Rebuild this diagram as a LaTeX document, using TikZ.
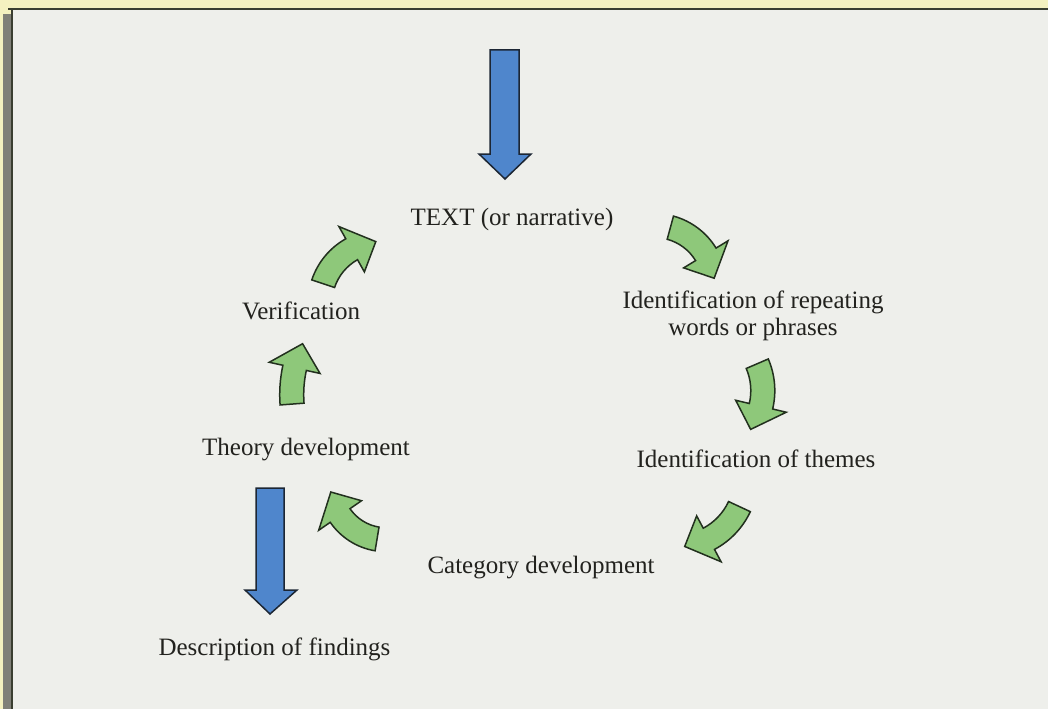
\documentclass[tikz,border=0pt]{standalone}
\usepackage{fontspec}
\setmainfont{Liberation Serif}

\definecolor{pageyellow}{RGB}{244,241,192}
\definecolor{panelgray}{RGB}{238,239,235}
\definecolor{framedark}{RGB}{58,62,48}
\definecolor{bandgray}{RGB}{128,128,120}
\definecolor{arrowblue}{RGB}{79,134,204}
\definecolor{blueline}{RGB}{28,38,52}
\definecolor{arrowgreen}{RGB}{142,200,122}
\definecolor{greenline}{RGB}{34,48,30}
\definecolor{inkdark}{RGB}{34,34,30}

\tikzset{
  steplabel/.style={font=\fontsize{25}{27}\selectfont, text=inkdark, inner sep=0pt, anchor=base},
  bluearrow/.style={fill=arrowblue, draw=blueline, line width=1.5pt, line join=miter},
  greenarrow/.style={fill=arrowgreen, draw=greenline, line width=1.5pt, line join=miter},
}

% curved block arrow, clockwise: centre x, centre y, radius, start angle, end angle
\newcommand{\bentarrow}[5]{%
  \pgfmathsetmacro\ro{#3+12}\pgfmathsetmacro\ri{#3-12}%
  \pgfmathsetmacro\rbo{#3+26}\pgfmathsetmacro\rbi{#3-26}%
  \pgfmathsetmacro\tipang{#5-1460/#3}%
  \filldraw[greenarrow,shift={(#1,#2)}] (#4:\ro) arc[start angle=#4,end angle=#5,radius=\ro]
    -- (#5:\rbo) -- (\tipang:#3) -- (#5:\rbi) -- (#5:\ri)
    arc[start angle=#5,end angle=#4,radius=\ri] -- cycle;}

\begin{document}
\begin{tikzpicture}[x=1pt,y=1pt]
\useasboundingbox (0,0) rectangle (1048,-709);

% page and frame
\fill[pageyellow] (0,0) rectangle (1048,-709);
\fill[panelgray] (12,-9) rectangle (1048,-709);
\fill[bandgray] (3,-14) rectangle (11,-709);
\draw[framedark,line width=2pt] (8,-9) -- (1048,-9);
\draw[framedark,line width=2pt] (12,-9) -- (12,-709);

% straight arrows
\filldraw[bluearrow] (490,-50) -- (519,-50) -- (519,-154) -- (531,-154) -- (505,-179) -- (479,-154) -- (490,-154) -- cycle;
\filldraw[bluearrow] (256,-488) -- (284,-488) -- (284,-590) -- (297,-590) -- (270,-614) -- (245,-590) -- (256,-590) -- cycle;

% curved arrows round the cycle
\bentarrow{654.6}{-285.6}{60}{74.8}{31.4}
\bentarrow{694.8}{-390.6}{68}{23.3}{-13.3}
\bentarrow{676}{-477}{70}{335}{298}
\bentarrow{386.2}{-483.7}{56}{260.6}{214.6}
\bentarrow{416.7}{-394.7}{125}{184.3}{167.6}
\bentarrow{382}{-303.3}{62}{161.6}{119.3}

% labels
\node[steplabel] (text) at (512,-225) {TEXT (or narrative)};
\node[steplabel,anchor=north,align=center] (repeating) at (753,-291) {Identification of repeating\\words or phrases};
\node[steplabel] (themes) at (756,-467) {Identification of themes};
\node[steplabel] (category) at (541,-573) {Category development};
\node[steplabel] (theory) at (306,-455) {Theory development};
\node[steplabel] (verification) at (301,-319) {Verification};
\node[steplabel] (findings) at (274.5,-655) {Description of findings};

\end{tikzpicture}
\end{document}
